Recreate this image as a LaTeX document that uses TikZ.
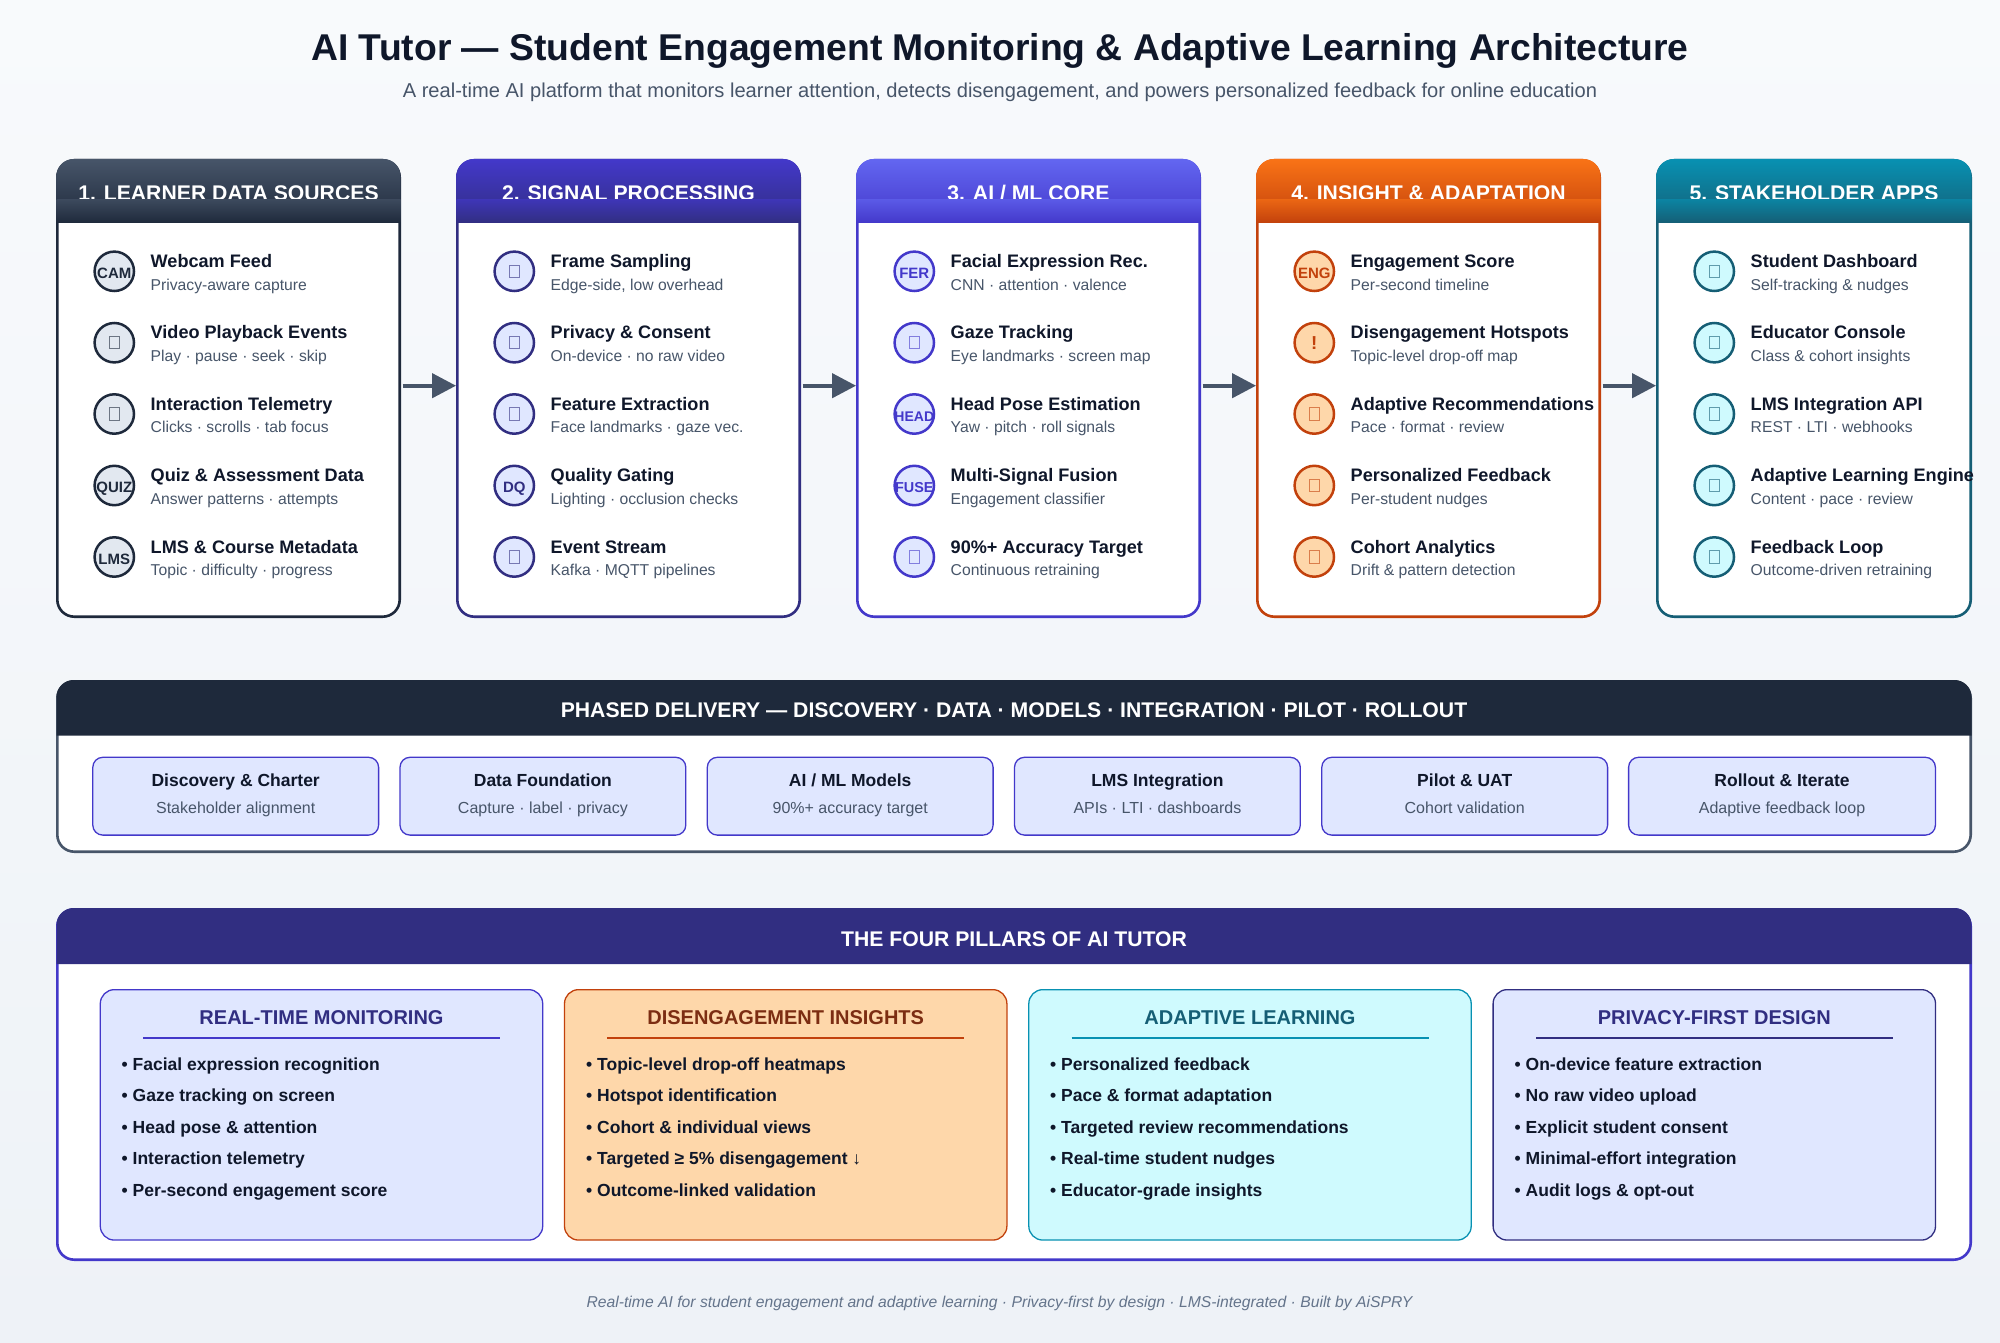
\documentclass[tikz,border=0pt]{standalone}
\usepackage{fontspec}
\setmainfont{Liberation Sans}
\usepackage{xcolor}
\usetikzlibrary{calc,arrows.meta}

\definecolor{pagetop}{HTML}{F8FAFC}
\definecolor{pagebot}{HTML}{EEF2F7}
\definecolor{inkdark}{HTML}{0F172A}
\definecolor{slatedark}{HTML}{1E293B}
\definecolor{slatemid}{HTML}{475569}
\definecolor{slatesoft}{HTML}{64748B}
\definecolor{slatepale}{HTML}{E2E8F0}
\definecolor{indigodeep}{HTML}{312E81}
\definecolor{indigomid}{HTML}{4338CA}
\definecolor{indigolight}{HTML}{6366F1}
\definecolor{indigopale}{HTML}{E0E7FF}
\definecolor{orangemid}{HTML}{F97316}
\definecolor{orangedeep}{HTML}{C2410C}
\definecolor{orangedark}{HTML}{7C2D12}
\definecolor{orangepale}{HTML}{FED7AA}
\definecolor{cyanmid}{HTML}{0891B2}
\definecolor{cyandeep}{HTML}{155E75}
\definecolor{cyanpale}{HTML}{CFFAFE}

\tikzset{
  cardbox/.style={draw=ringdraw, fill=white, line width=2.6pt, rounded corners=17pt, inner sep=0pt, minimum height=456.4pt},
  panelbox/.style={fill=white, line width=2.6pt, rounded corners=17pt, inner sep=0pt, minimum width=1913.4pt},
  headtext/.style={text=white, anchor=base, inner sep=0pt, font=\fontsize{21.2}{24}\selectfont\bfseries},
  ring/.style={circle, draw=ringdraw, fill=ringfill, line width=2.5pt, minimum size=39.4pt, inner sep=0pt, text=ringdraw, font=\fontsize{15}{18}\selectfont\bfseries},
  tofu/.style={rectangle, draw=ringdraw!60!ringfill, line width=1pt, minimum width=9.6pt, minimum height=12.2pt, inner sep=0pt},
  rowhead/.style={text=inkdark, anchor=base west, inner sep=0pt, font=\fontsize{18.1}{21}\selectfont\bfseries},
  rownote/.style={text=slatemid, anchor=base west, inner sep=0pt, font=\fontsize{15.7}{18}\selectfont},
  flowarrow/.style={draw=slatemid, line width=3.7pt, -{Triangle[length=24pt,width=24.3pt]}},
  phasebox/.style={draw=indigomid, fill=indigopale, line width=1.3pt, rounded corners=10pt, inner sep=0pt, minimum height=77.8pt},
  phasehead/.style={text=inkdark, anchor=base, inner sep=0pt, font=\fontsize{17.5}{20}\selectfont\bfseries},
  phasenote/.style={text=slatemid, anchor=base, inner sep=0pt, font=\fontsize{16}{19}\selectfont},
  pillarbox/.style={line width=1.3pt, rounded corners=14pt, inner sep=0pt, minimum width=442.4pt, minimum height=250.4pt},
  pillarhead/.style={anchor=base, inner sep=0pt, font=\fontsize{20}{23}\selectfont\bfseries},
  bulletline/.style={text=inkdark, anchor=base west, inner sep=0pt, font=\fontsize{17.5}{20}\selectfont\bfseries},
}

% header with its two gradient strips, the title sits between them
\newcommand{\cardhead}[4]{
  \path[top color=headtop, bottom color=headbot] (#2,223) [rounded corners=17pt] -- (#2,159) -- (#3,159) [sharp corners] -- (#3,223) -- cycle;
  \node[headtext] (#1) at ({(#2+#3)/2},200.3) {#4};
  \path[top color=headtop!72!headbot, bottom color=headbot] (#2,200) rectangle (#3,223);
}
\newcommand{\ringtag}[4]{
  \node[ring] (#1) at (#2,#3) {\raisebox{-7pt}[0pt][0pt]{\makebox[0pt]{#4}}};
}
\newcommand{\ringblank}[3]{
  \node[ring] (#1) at (#2,#3) {};
  \node[tofu] (#1box) at (#1.center) {};
}
\newcommand{\rowtext}[3]{
  \node[rowhead] (#1head) at ($(#1.center)+(36.2,-3.9)$) {#2};
  \node[rownote] (#1note) at ($(#1.center)+(36.2,18.7)$) {#3};
}

\begin{document}
\begin{tikzpicture}[x=1pt,y=-1pt]
  \shade[top color=pagetop, bottom color=pagebot] (0,0) rectangle (2000,1343);
  \useasboundingbox (0,0) rectangle (2000,1343);

  \node[text=inkdark, anchor=base, inner sep=0pt, font=\fontsize{37.3}{44}\selectfont\bfseries] (title) at (1000,60.5) {AI Tutor — Student Engagement Monitoring \& Adaptive Learning Architecture};
  \node[text=slatemid, anchor=base, inner sep=0pt, font=\fontsize{20.1}{24}\selectfont] (subtitle) at (1000,97.8) {A real-time AI platform that monitors learner attention, detects disengagement, and powers personalized feedback for online education};

  % learner data sources
  \begin{scope}
    \colorlet{ringdraw}{slatedark}\colorlet{ringfill}{slatepale}
    \colorlet{headtop}{slatemid}\colorlet{headbot}{slatedark}
    \node[cardbox, minimum width=342.4pt] (card1) at (228.5,388.5) {};
    \cardhead{head1}{56.5}{400.5}{1. LEARNER DATA SOURCES}
    \ringtag{cam}{114.3}{271.3}{CAM}
    \rowtext{cam}{Webcam Feed}{Privacy-aware capture}
    \ringblank{video}{114.3}{342.7}
    \rowtext{video}{Video Playback Events}{Play · pause · seek · skip}
    \ringblank{telemetry}{114.3}{414}
    \rowtext{telemetry}{Interaction Telemetry}{Clicks · scrolls · tab focus}
    \ringtag{quiz}{114.3}{485.5}{QUIZ}
    \rowtext{quiz}{Quiz \& Assessment Data}{Answer patterns · attempts}
    \ringtag{lms}{114.3}{557}{LMS}
    \rowtext{lms}{LMS \& Course Metadata}{Topic · difficulty · progress}
  \end{scope}

  % signal processing
  \begin{scope}
    \colorlet{ringdraw}{indigodeep}\colorlet{ringfill}{indigopale}
    \colorlet{headtop}{indigomid}\colorlet{headbot}{indigodeep}
    \node[cardbox, minimum width=342.4pt] (card2) at (628.5,388.5) {};
    \cardhead{head2}{456.5}{800.5}{2. SIGNAL PROCESSING}
    \ringblank{frame}{514.3}{271.3}
    \rowtext{frame}{Frame Sampling}{Edge-side, low overhead}
    \ringblank{consent}{514.3}{342.7}
    \rowtext{consent}{Privacy \& Consent}{On-device · no raw video}
    \ringblank{feature}{514.3}{414}
    \rowtext{feature}{Feature Extraction}{Face landmarks · gaze vec.}
    \ringtag{gating}{514.3}{485.5}{DQ}
    \rowtext{gating}{Quality Gating}{Lighting · occlusion checks}
    \ringblank{stream}{514.3}{557}
    \rowtext{stream}{Event Stream}{Kafka · MQTT pipelines}
  \end{scope}

  % ai and ml core
  \begin{scope}
    \colorlet{ringdraw}{indigomid}\colorlet{ringfill}{indigopale}
    \colorlet{headtop}{indigolight}\colorlet{headbot}{indigomid}
    \node[cardbox, minimum width=342.4pt] (card3) at (1028.5,388.5) {};
    \cardhead{head3}{856.5}{1200.5}{3. AI / ML CORE}
    \ringtag{fer}{914.3}{271.3}{FER}
    \rowtext{fer}{Facial Expression Rec.}{CNN · attention · valence}
    \ringblank{gaze}{914.3}{342.7}
    \rowtext{gaze}{Gaze Tracking}{Eye landmarks · screen map}
    \ringtag{pose}{914.3}{414}{\fontsize{14}{16}\selectfont HEAD}
    \rowtext{pose}{Head Pose Estimation}{Yaw · pitch · roll signals}
    \ringtag{fuse}{914.3}{485.5}{\fontsize{14.4}{16}\selectfont FUSE}
    \rowtext{fuse}{Multi-Signal Fusion}{Engagement classifier}
    \ringblank{target}{914.3}{557}
    \rowtext{target}{90\%+ Accuracy Target}{Continuous retraining}
  \end{scope}

  % insight and adaptation
  \begin{scope}
    \colorlet{ringdraw}{orangedeep}\colorlet{ringfill}{orangepale}
    \colorlet{headtop}{orangemid}\colorlet{headbot}{orangedeep}
    \node[cardbox, minimum width=342.4pt] (card4) at (1428.5,388.5) {};
    \cardhead{head4}{1256.5}{1600.5}{4. INSIGHT \& ADAPTATION}
    \ringtag{score}{1314.3}{271.3}{ENG}
    \rowtext{score}{Engagement Score}{Per-second timeline}
    \ringtag{hotspot}{1314.3}{342.7}{\fontsize{18.75}{20}\selectfont !}
    \rowtext{hotspot}{Disengagement Hotspots}{Topic-level drop-off map}
    \ringblank{recommend}{1314.3}{414}
    \rowtext{recommend}{Adaptive Recommendations}{Pace · format · review}
    \ringblank{personal}{1314.3}{485.5}
    \rowtext{personal}{Personalized Feedback}{Per-student nudges}
    \ringblank{cohort}{1314.3}{557}
    \rowtext{cohort}{Cohort Analytics}{Drift \& pattern detection}
  \end{scope}

  % stakeholder apps
  \begin{scope}
    \colorlet{ringdraw}{cyandeep}\colorlet{ringfill}{cyanpale}
    \colorlet{headtop}{cyanmid}\colorlet{headbot}{cyandeep}
    \node[cardbox, minimum width=313.4pt] (card5) at (1814,388.5) {};
    \cardhead{head5}{1656.5}{1971.5}{5. STAKEHOLDER APPS}
    \ringblank{student}{1714.3}{271.3}
    \rowtext{student}{Student Dashboard}{Self-tracking \& nudges}
    \ringblank{educator}{1714.3}{342.7}
    \rowtext{educator}{Educator Console}{Class \& cohort insights}
    \ringblank{api}{1714.3}{414}
    \rowtext{api}{LMS Integration API}{REST · LTI · webhooks}
    \ringblank{engine}{1714.3}{485.5}
    \rowtext{engine}{Adaptive Learning Engine}{Content · pace · review}
    \ringblank{loop}{1714.3}{557}
    \rowtext{loop}{Feedback Loop}{Outcome-driven retraining}
  \end{scope}

  \draw[flowarrow] ([xshift=1.7pt,yshift=2.8pt]card1.east) -- ([yshift=2.8pt]card2.west);
  \draw[flowarrow] ([xshift=1.7pt,yshift=2.8pt]card2.east) -- ([yshift=2.8pt]card3.west);
  \draw[flowarrow] ([xshift=1.7pt,yshift=2.8pt]card3.east) -- ([yshift=2.8pt]card4.west);
  \draw[flowarrow] ([xshift=1.7pt,yshift=2.8pt]card4.east) -- ([yshift=2.8pt]card5.west);

  % delivery phases
  \node[panelbox, draw=slatemid, minimum height=170.4pt] (phasepanel) at (1014,766.5) {};
  \fill[slatedark] (56.5,735.7) [rounded corners=17pt] -- (56.5,680) -- (1971.5,680) [sharp corners] -- (1971.5,735.7) -- cycle;
  \node[headtext] (phasetitle) at (1014,717.6) {PHASED DELIVERY — DISCOVERY · DATA · MODELS · INTEGRATION · PILOT · ROLLOUT};

  \node[phasebox, minimum width=285.8pt] (phase1) at (235.7,796.2) {};
  \node[phasehead] (phase1head) at (235.7,786) {Discovery \& Charter};
  \node[phasenote] (phase1note) at (235.7,813) {Stakeholder alignment};
  \node[phasebox, minimum width=285.8pt] (phase2) at (542.9,796.2) {};
  \node[phasehead] (phase2head) at (542.9,786) {Data Foundation};
  \node[phasenote] (phase2note) at (542.9,813) {Capture · label · privacy};
  \node[phasebox, minimum width=285.8pt] (phase3) at (850.2,796.2) {};
  \node[phasehead] (phase3head) at (850.2,786) {AI / ML Models};
  \node[phasenote] (phase3note) at (850.2,813) {90\%+ accuracy target};
  \node[phasebox, minimum width=285.8pt] (phase4) at (1157.4,796.2) {};
  \node[phasehead] (phase4head) at (1157.4,786) {LMS Integration};
  \node[phasenote] (phase4note) at (1157.4,813) {APIs · LTI · dashboards};
  \node[phasebox, minimum width=285.8pt] (phase5) at (1464.7,796.2) {};
  \node[phasehead] (phase5head) at (1464.7,786) {Pilot \& UAT};
  \node[phasenote] (phase5note) at (1464.7,813) {Cohort validation};
  \node[phasebox, minimum width=306.8pt] (phase6) at (1782,796.2) {};
  \node[phasehead] (phase6head) at (1782,786) {Rollout \& Iterate};
  \node[phasenote] (phase6note) at (1782,813) {Adaptive feedback loop};

  % the four pillars
  \node[panelbox, draw=indigomid, minimum height=350.4pt] (pillarpanel) at (1014,1084.5) {};
  \fill[indigodeep] (56.5,964) [rounded corners=17pt] -- (56.5,908) -- (1971.5,908) [sharp corners] -- (1971.5,964) -- cycle;
  \node[headtext] (pillartitle) at (1014,946) {THE FOUR PILLARS OF AI TUTOR};

  \node[pillarbox, draw=indigomid, fill=indigopale] (pillar1) at (321.5,1114.85) {};
  \node[pillarhead, text=indigodeep] (pillar1head) at (321.5,1024) {REAL-TIME MONITORING};
  \draw[indigomid, line width=1.5pt] (143,1038) -- (500,1038);
  \node[bulletline] (p1a) at (121.5,1070) {• Facial expression recognition};
  \node[bulletline] (p1b) at (121.5,1101.5) {• Gaze tracking on screen};
  \node[bulletline] (p1c) at (121.5,1133) {• Head pose \& attention};
  \node[bulletline] (p1d) at (121.5,1164.3) {• Interaction telemetry};
  \node[bulletline] (p1e) at (121.5,1196) {• Per-second engagement score};

  \node[pillarbox, draw=orangedeep, fill=orangepale] (pillar2) at (785.7,1114.85) {};
  \node[pillarhead, text=orangedark] (pillar2head) at (785.7,1024) {DISENGAGEMENT INSIGHTS};
  \draw[orangedeep, line width=1.5pt] (607,1038) -- (964.4,1038);
  \node[bulletline] (p2a) at (586,1070) {• Topic-level drop-off heatmaps};
  \node[bulletline] (p2b) at (586,1101.5) {• Hotspot identification};
  \node[bulletline] (p2c) at (586,1133) {• Cohort \& individual views};
  \node[bulletline] (p2d) at (586,1164.3) {• Targeted ≥ 5\% disengagement ↓};
  \node[bulletline] (p2e) at (586,1196) {• Outcome-linked validation};

  \node[pillarbox, draw=cyanmid, fill=cyanpale] (pillar3) at (1250,1114.85) {};
  \node[pillarhead, text=cyandeep] (pillar3head) at (1250,1024) {ADAPTIVE LEARNING};
  \draw[cyanmid, line width=1.5pt] (1071.5,1038) -- (1428.5,1038);
  \node[bulletline] (p3a) at (1050,1070) {• Personalized feedback};
  \node[bulletline] (p3b) at (1050,1101.5) {• Pace \& format adaptation};
  \node[bulletline] (p3c) at (1050,1133) {• Targeted review recommendations};
  \node[bulletline] (p3d) at (1050,1164.3) {• Real-time student nudges};
  \node[bulletline] (p3e) at (1050,1196) {• Educator-grade insights};

  \node[pillarbox, draw=indigodeep, fill=indigopale] (pillar4) at (1714.3,1114.85) {};
  \node[pillarhead, text=indigodeep] (pillar4head) at (1714.3,1024) {PRIVACY-FIRST DESIGN};
  \draw[indigodeep, line width=1.5pt] (1536,1038) -- (1893,1038);
  \node[bulletline] (p4a) at (1514.5,1070) {• On-device feature extraction};
  \node[bulletline] (p4b) at (1514.5,1101.5) {• No raw video upload};
  \node[bulletline] (p4c) at (1514.5,1133) {• Explicit student consent};
  \node[bulletline] (p4d) at (1514.5,1164.3) {• Minimal-effort integration};
  \node[bulletline] (p4e) at (1514.5,1196) {• Audit logs \& opt-out};

  \node[text=slatesoft, anchor=base, inner sep=0pt, font=\fontsize{15.7}{19}\selectfont\itshape] (footer) at (999.5,1307.5) {Real-time AI for student engagement and adaptive learning · Privacy-first by design · LMS-integrated · Built by AiSPRY};
\end{tikzpicture}
\end{document}
